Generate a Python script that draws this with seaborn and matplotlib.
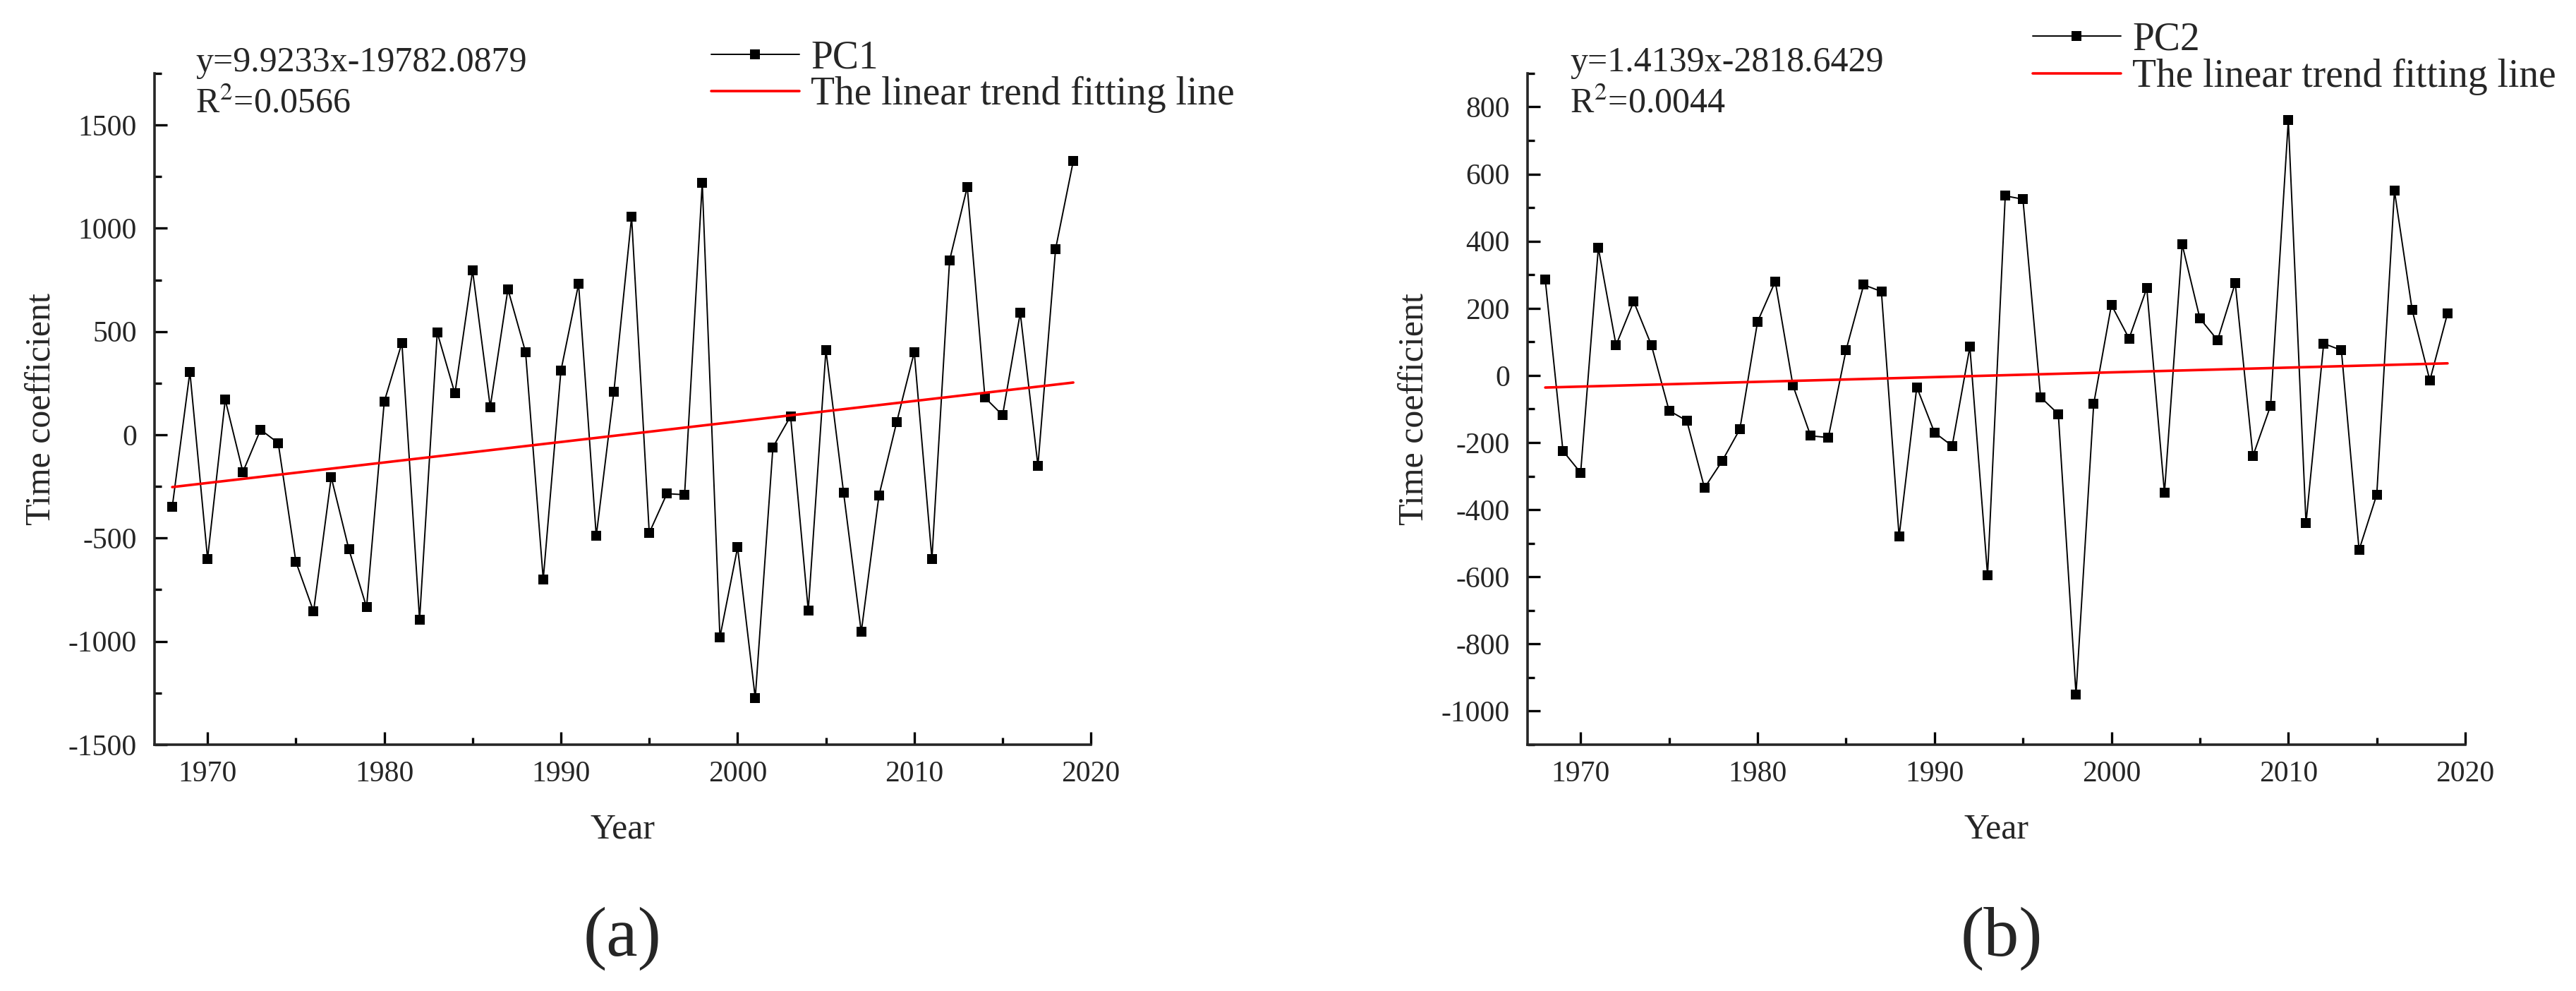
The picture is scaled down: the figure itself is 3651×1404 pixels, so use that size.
import matplotlib
matplotlib.use("Agg")
import matplotlib.pyplot as plt
from matplotlib.ticker import MultipleLocator
import seaborn as sns
import numpy as np

years = list(range(1968, 2020))

pc1 = [-350, 305, -600, 170, -180, 25, -40, -615, -855, -205,
       -555, -835, 160, 445, -895, 495, 200, 795, 135, 705,
       400, -700, 310, 730, -490, 210, 1055, -475, -285, -290,
       1220, -980, -545, -1275, -60, 90, -850, 410, -280, -955,
       -295, 60, 400, -600, 845, 1200, 180, 95, 590, -150,
       900, 1325]

pc2 = [285, -225, -290, 380, 90, 220, 90, -105, -135, -335,
       -255, -160, 160, 280, -30, -180, -185, 75, 270, 250,
       -480, -35, -170, -210, 85, -595, 535, 525, -65, -115,
       -950, -85, 210, 110, 260, -350, 390, 170, 105, 275,
       -240, -90, 760, -440, 95, 75, -520, -355, 550, 195,
       -15, 185]

# fitted trend lines as printed on the chart
slopes = [9.9233, 1.4139]
intercepts = [-19782.0879, -2818.6429]
eq_text = ["y=9.9233x-19782.0879", "y=1.4139x-2818.6429"]
r2_text = ["R$^2$=0.0566", "R$^2$=0.0044"]
series_names = ["PC1", "PC2"]
panel_tags = ["(a)", "(b)"]

sns.set_theme(style="ticks")
plt.rcParams["font.family"] = ["Liberation Serif", "DejaVu Serif"]
plt.rcParams["mathtext.fontset"] = "stix"
plt.rcParams["axes.unicode_minus"] = False
plt.rcParams["axes.linewidth"] = 1.3

fig = plt.figure(figsize=(18.255, 7.02))
ax1 = fig.add_axes([0.060, 0.2486, 0.3635, 0.6774])
ax2 = fig.add_axes([0.593, 0.2486, 0.364, 0.6774])

yr = np.array(years)
for i, (ax, vals) in enumerate(zip([ax1, ax2], [pc1, pc2])):
    trend = slopes[i] * yr + intercepts[i]
    sns.lineplot(x=years, y=vals, ax=ax, color="black", linewidth=0.7,
                 marker="s", markersize=4.8, markeredgewidth=0,
                 markerfacecolor="black", label=series_names[i])
    sns.lineplot(x=years, y=trend, ax=ax, color="red", linewidth=1.3,
                 label="The linear trend fitting line")

    ax.set_xlim(1967, 2020)
    ax.xaxis.set_major_locator(MultipleLocator(10))
    ax.xaxis.set_minor_locator(MultipleLocator(5))
    ax.spines["top"].set_visible(False)
    ax.spines["right"].set_visible(False)
    ax.tick_params(which="major", direction="in", length=6.5, width=1.2,
                   labelsize=15, color="black")
    ax.tick_params(which="minor", direction="in", length=3.5, width=1.2,
                   color="black")
    ax.tick_params(axis="y", pad=9)
    ax.tick_params(axis="x", pad=8)
    ax.set_xlabel("Year", fontsize=18, labelpad=13)
    ax.set_ylabel("Time coefficient", fontsize=18, labelpad=5)

ax1.set_ylim(-1500, 1750)
ax1.yaxis.set_major_locator(MultipleLocator(500))
ax1.yaxis.set_minor_locator(MultipleLocator(250))
ax2.set_ylim(-1100, 900)
ax2.yaxis.set_major_locator(MultipleLocator(200))
ax2.yaxis.set_minor_locator(MultipleLocator(100))

# legends sit partly outside the axes, like the original
leg_pos = [(0.276, 0.960), (0.789, 0.978)]
for ax, pos in zip([ax1, ax2], leg_pos):
    ax.legend(loc="upper left", bbox_to_anchor=pos, bbox_transform=fig.transFigure,
              frameon=False, fontsize=20, handlelength=2.25, handletextpad=0.3,
              borderpad=0, borderaxespad=0, labelspacing=0.0, numpoints=1)

eq_x = [0.0759, 0.6094]
for i in range(2):
    fig.text(eq_x[i], 0.937, eq_text[i], fontsize=18, va="center", ha="left")
    fig.text(eq_x[i], 0.895, r2_text[i], fontsize=18, va="center", ha="left")

tag_x = [0.2416, 0.777]
for i in range(2):
    fig.text(tag_x[i], 0.053, panel_tags[i], fontsize=36, ha="center", va="center")

fig.savefig("out.png", dpi=200)
